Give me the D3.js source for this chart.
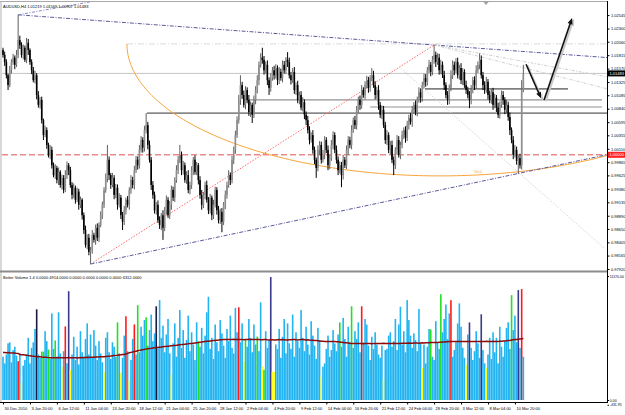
<!DOCTYPE html>
<html><head><meta charset="utf-8">
<script src="https://cdn.jsdelivr.net/npm/d3@7"></script>
<style>body{margin:0;background:#fff}svg{display:block;font-family:"Liberation Sans",Arial,sans-serif}</style>
</head><body><svg id="c" width="625" height="415"></svg>
<script>
const symbolTitle = "AUDUSD,H4  1.01219 1.01569 1.00907 1.01483";
const volumeTitle = "Better Volume 1.4 0.0000 4914.0000 0.0000 0.0000 0.0000 0.0000 6312.0000";
const firstOpen = 1.0191;
const closes = [
1.0182,1.0169,1.0145,1.0127,1.0154,1.0169,1.0177,1.0164,1.0182,1.0209,
1.0200,1.0182,1.0195,1.0173,1.0204,1.0191,1.0169,1.0154,1.0136,1.0145,
1.0109,1.0091,1.0100,1.0063,1.0036,1.0045,1.0018,1.0000,1.0009,0.9981,
0.9963,0.9976,0.9954,0.9969,0.9945,0.9958,0.9936,0.9963,0.9981,0.9972,
0.9945,0.9927,0.9940,0.9918,0.9933,0.9909,0.9918,0.9890,0.9863,0.9836,
0.9849,0.9823,0.9827,0.9854,0.9845,0.9867,0.9849,0.9872,0.9890,0.9909,
0.9936,0.9958,0.9991,0.9963,0.9945,0.9958,0.9927,0.9940,0.9909,0.9922,
0.9890,0.9878,0.9899,0.9918,0.9909,0.9936,0.9954,0.9945,0.9972,0.9991,
0.9981,1.0009,1.0027,1.0013,1.0045,1.0054,1.0018,0.9991,0.9945,0.9927,
0.9899,0.9909,0.9881,0.9872,0.9890,0.9867,0.9899,0.9918,0.9890,0.9909,
0.9936,0.9922,0.9954,0.9972,0.9991,1.0000,0.9972,0.9981,0.9954,0.9963,
0.9936,0.9945,0.9972,0.9991,0.9969,0.9981,0.9954,0.9927,0.9909,0.9927,
0.9945,0.9918,0.9899,0.9922,0.9890,0.9909,0.9936,0.9899,0.9881,0.9896,
0.9878,0.9909,0.9927,0.9945,0.9963,0.9954,0.9991,1.0009,1.0036,1.0063,
1.0100,1.0127,1.0109,1.0091,1.0118,1.0100,1.0078,1.0091,1.0073,1.0100,
1.0118,1.0136,1.0164,1.0177,1.0173,1.0154,1.0164,1.0136,1.0122,1.0140,
1.0154,1.0145,1.0158,1.0136,1.0151,1.0140,1.0164,1.0154,1.0173,1.0169,
1.0145,1.0136,1.0151,1.0118,1.0127,1.0100,1.0109,1.0086,1.0096,1.0073,
1.0063,1.0045,1.0027,1.0036,1.0009,0.9991,0.9976,1.0009,1.0018,0.9991,
1.0000,1.0027,1.0009,0.9981,0.9994,1.0018,1.0036,1.0009,0.9991,0.9972,
0.9981,0.9963,0.9991,0.9981,1.0009,1.0027,1.0018,1.0045,1.0063,1.0054,
1.0082,1.0100,1.0091,1.0118,1.0109,1.0127,1.0136,1.0122,1.0140,1.0145,
1.0127,1.0109,1.0118,1.0091,1.0073,1.0082,1.0054,1.0027,1.0036,1.0009,
1.0018,0.9991,0.9981,1.0009,1.0027,1.0000,1.0018,1.0036,1.0045,1.0031,
1.0054,1.0067,1.0060,1.0082,1.0091,1.0078,1.0100,1.0114,1.0104,1.0127,
1.0140,1.0133,1.0154,1.0164,1.0151,1.0173,1.0182,1.0169,1.0177,1.0154,
1.0164,1.0145,1.0127,1.0109,1.0100,1.0122,1.0145,1.0164,1.0154,1.0169,
1.0145,1.0158,1.0136,1.0151,1.0127,1.0118,1.0109,1.0100,1.0118,1.0136,
1.0127,1.0154,1.0164,1.0173,1.0145,1.0127,1.0118,1.0133,1.0109,1.0100,
1.0114,1.0091,1.0104,1.0086,1.0073,1.0091,1.0109,1.0100,1.0082,1.0091,
1.0069,1.0045,1.0027,1.0000,1.0009,0.9989,0.9994,0.9981,1.0118,1.0148];
// wick lengths in pips above max(open,close) and below min(open,close)
const upperWickPips = [
4,6,5,3,8,5,7,4,9,46, 8,5,6,4,9,7,3,5,6,8, 4,7,5,6,3,8,5,4,9,6, 5,7,4,8,3,6,5,9,7,4,
6,5,8,4,7,5,6,3,5,8, 6,7,5,9,4,6,8,5,7,6, 5,8,27,6,4,9,5,7,6,8, 5,6,8,4,7,5,9,6,8,7,
6,9,7,5,8,22,6,8,5,7, 6,5,8,7,4,9,6,8,5,7, 8,6,5,9,7,18,6,8,5,7, 9,6,7,5,8,6,4,7,9,5,
6,8,5,7,4,9,6,5,8,6, 7,5,8,6,9,5,7,6,8,7, 9,18,6,8,7,5,9,6,4,8, 7,9,6,8,18,7,6,8,5,9,
6,8,7,5,9,6,8,7,5,14, 8,6,7,9,5,8,6,7,9,5, 6,8,7,5,9,6,4,8,7,6, 9,7,5,8,6,9,7,5,8,6,
7,6,9,5,8,7,6,9,5,8, 7,6,8,9,5,7,8,6,5,13, 8,7,6,9,5,8,7,6,9,5, 7,8,6,5,9,7,6,8,5,7,
8,6,9,7,5,8,6,9,7,6, 8,7,6,9,5,7,18,6,8,7, 9,6,8,5,7,6,9,8,6,7, 8,6,9,7,5,8,6,7,9,6,
7,9,6,12,8,6,7,9,5,8, 6,8,7,5,9,6,8,7,5,9, 6,8,5,7,9,6,5,8,18,16];
const lowerWickPips = [
5,7,6,9,4,6,5,8,4,6, 7,5,8,4,6,9,5,7,4,6, 8,5,7,6,9,4,7,5,8,6, 4,7,6,9,5,8,6,4,7,9,
5,8,6,7,4,9,6,8,7,5, 8,6,22,7,5,9,6,8,4,7, 6,5,8,9,7,4,8,6,9,5, 7,15,6,8,5,9,7,6,8,5,
8,6,5,9,7,6,8,5,9,7, 6,8,5,7,9,22,6,8,5,7, 9,6,8,5,7,6,9,8,5,7, 6,8,7,9,5,6,8,7,9,6,
8,5,7,6,9,7,5,8,6,7, 19,6,8,7,5,9,6,8,7,5, 6,9,7,5,8,6,7,9,15,6, 8,6,9,5,7,8,6,9,13,7,
5,8,6,9,7,5,8,6,7,9, 6,8,5,7,9,6,8,5,7,8, 9,6,8,5,7,8,18,6,9,7, 5,8,6,9,7,5,8,6,7,9,
6,22,8,5,7,9,6,8,5,7, 8,6,9,7,5,8,6,9,7,6, 5,8,7,9,6,8,5,7,9,6, 8,6,18,7,9,5,8,6,7,9,
6,8,5,9,7,6,8,5,9,7, 6,9,7,5,8,6,7,9,5,8, 7,5,9,6,9,8,6,7,9,5, 6,8,7,9,5,7,6,15,8,6,
9,7,5,8,6,9,7,5,8,6, 7,9,6,8,6,7,5,9,8,6, 7,9,6,8,5,7,24,6,8,4];
const volumes = [
3900,3300,4100,5100,5200,3400,4500,4800,4000,3500, 4200,1540,3100,3600,4100,5600,3300,4700,5200,6400,
8170,4100,3800,4360,4360,6200,5300,4540,3700,7800, 4600,5360,3900,7900,4200,3000,4400,6630,3300,9800,
2720,4100,5700,3600,4800,3200,6200,4300,3900,5500, 6900,4100,5900,3800,6300,4900,3600,5300,4200,3400,
2540,5600,6100,4300,3700,5200,4800,3900,6990,4200, 2450,3800,5800,7540,4400,1820,3600,5500,6810,4100,
8540,4300,6600,5800,7200,7450,4900,6300,7700,5300, 6000,8440,4800,9000,5600,6700,4300,5900,7300,4200,
2270,5100,6900,3900,5600,8100,4700,6300,3800,5400, 7600,4400,6100,5000,3600,7000,5270,4800,6500,4200,
5800,7900,9300,4600,5600,3700,6800,5200,4400,7200, 6000,4900,3800,6400,5300,7600,4700,4200,8300,6100,
8350,5200,6900,3450,5450,4800,7300,5600,4300,6800, 5000,5720,4400,8800,3000,2720,6200,4700,5400,11080,
2540,2540,5000,4600,6400,3800,5700,7300,4200,6900, 5100,4600,7700,3900,6100,5300,4700,8100,5600,4400,
6600,5000,4100,7100,5800,4900,3700,6500,5400,2090, 3000,3300,4600,5800,3900,4500,6300,5100,4400,5900,
6990,4800,7400,5500,3900,6600,5200,8440,4700,6200, 5500,7000,4300,8440,5200,7300,6800,4900,3600,5700,
4600,6100,5000,4100,3800,4900,1820,4500,4600,5800, 6100,4800,5300,7300,4500,6800,8400,5000,6200,4300,
9000,7200,5800,4700,6000,5400,4400,8200,5100,2900, 5000,3300,4800,6400,6360,3900,3600,7100,5200,4600,
9530,6100,7300,8600,5500,7800,8990,3900,4500,5200, 6900,8700,6600,4700,3800,3180,5900,6990,4700,3600,
4400,6200,5100,3800,7720,4500,3300,2900,4100,5600, 3700,6100,4300,5600,3300,6600,4800,3900,5300,6500,
7000,4600,9440,6300,7600,5200,9900,4700,9990,3900];
const volumeAverage = [
4270,4270,4260,4270,4250,4240,4240,4230,4200,4190, 4090,4080,4070,4060,4040,4000,3990,3960,3950,3930,
3900,3900,3890,3870,3860,3850,3840,3820,3810,3810, 3810,3800,3810,3820,3810,3800,3810,3800,3810,3820,
3810,3800,3810,3800,3790,3810,3820,3810,3820,3830, 3840,3830,3850,3860,3850,3870,3880,3870,3890,3900,
3900,3920,3930,3950,3960,3980,4000,4020,4030,4050, 4070,4090,4100,4150,4200,4250,4290,4320,4360,4400,
4440,4470,4500,4520,4560,4590,4610,4630,4650,4680, 4700,4720,4740,4760,4770,4790,4810,4830,4850,4870,
4890,4900,4920,4930,4950,4970,4990,5010,5030,5050, 5060,5085,5100,5120,5140,5160,5180,5200,5220,5250,
5270,5290,5300,5320,5340,5360,5370,5390,5400,5420, 5430,5440,5450,5450,5440,5460,5450,5470,5450,5440,
5450,5460,5450,5430,5450,5460,5470,5450,5440,5450, 5460,5450,5440,5420,5430,5450,5440,5420,5410,5430,
5420,5400,5410,5430,5440,5420,5450,5430,5410,5400, 5420,5430,5450,5440,5420,5410,5430,5440,5450,5430,
5410,5420,5400,5390,5380,5360,5350,5340,5320,5300, 5290,5280,5270,5260,5270,5280,5270,5260,5250,5240,
5220,5200,5180,5160,5150,5130,5110,5100,5090,5090, 5080,5090,5085,5080,5070,5080,5090,5085,5080,5070,
5080,5090,5100,5090,5080,5100,5110,5100,5090,5080, 5090,5100,5110,5100,5090,5080,5100,5110,5120,5110,
5120,5130,5120,5110,5130,5140,5130,5120,5140,5150, 5140,5150,5160,5150,5170,5180,5170,5180,5190,5200,
5210,5220,5230,5240,5250,5260,5270,5270,5260,5270, 5280,5270,5260,5270,5280,5270,5260,5270,5280,5270,
5260,5270,5280,5270,5260,5270,5280,5290,5280,5270, 5280,5290,5280,5270,5280,5290,5300,5310,5320,5330,
5350,5370,5400,5420,5440,5460,5480,5500,5520,5540];
const lowVolumeBars = [11,35,40,60,70,75,100,143,154,160,161,189,226,249,275,287];
const churnBars = [23,24,27,31,68,80,85,116,144,151,155,200,207,254,260,302];
const climaxBars = [9,37,73,78,140,213,266,308];
const climaxChurnBars = [39,159,277,284,306];
const highChurnBars = [20,91];
const priceTicks = [0.97920,0.98165,0.98405,0.98650,0.98890,0.99135,0.99380,0.99625,0.99865,1.00110,
  1.00355,1.00595,1.00840,1.01085,1.01325,1.01570,1.01815,1.02060,1.02300,1.02545];
const volumeTicks = [11170, 0, -431.95];
const timeLabels = ["30 Dec 2010","3 Jan 20:00","6 Jan 12:00","11 Jan 04:00","13 Jan 20:00","18 Jan 12:00",
  "21 Jan 04:00","25 Jan 20:00","28 Jan 12:00","2 Feb 04:00","4 Feb 20:00","9 Feb 12:00","14 Feb 04:00",
  "16 Feb 20:00","21 Feb 12:00","24 Feb 04:00","28 Feb 20:00","3 Mar 12:00","8 Mar 04:00","10 Mar 20:00"];
const timeLabelStep = 16;
const lastPrice = 1.01483;
const roundLevel = 1.00000;
// drawn objects, in (bar index, price)
const upperTrend = [[9,1.0255],[256,1.0200]];
const lowerTrend = [[52,0.9801],[306,0.9966]];
const spikeRay = [[9,1.0255],[47,1.0276]];
const redTrend = [[52,0.9801],[256,1.0200]];
const fanLines = [[[256,1.0200],[359,1.0120]],[[256,1.0200],[359,1.0142]]];
const steepLine = [[236,1.0158],[357,0.9830]];
const arcCenter = [259.5, 1.0202];
const arcRadius = [185.9, 0.02404];
const arcLevel = "50.0";
const arcBaseLine = [[73.6,1.0202],[359,1.0202]];
const levelLines = [
  {name:"res1", from:85.5, to:359, price:1.0076},
  {name:"res2", from:142.5, to:355.7, price:1.0100},
  {name:"res3", from:218, to:355.7, price:1.0087},
  {name:"res4", from:250.6, to:335.5, price:1.0120}];
const arrowDown = [[310.6,1.0165],[319.5,1.0103]];
const arrowUp = [[321.3,1.0100],[337.9,1.0249]];

const svg = d3.select("#c");
const N = closes.length;
const opens = closes.map((c,i)=> i===0 ? firstOpen : closes[i-1]);
const highs = closes.map((c,i)=> Math.max(opens[i],c) + upperWickPips[i]/10000);
const lows = closes.map((c,i)=> Math.min(opens[i],c) - lowerWickPips[i]/10000);

const PL=2, PR=607, PT=2, PB=270, VT=273, VB=402;
const x = d3.scaleLinear().domain([0,360]).range([3, 3+360*1.684]);
const y = d3.scaleLinear().domain([0.9792,1.02545]).range([269,15.1]);
const v = d3.scaleLinear().domain([0,11170]).range([400,276]);
const edgeBar = x.invert(PR);

const defs = svg.append("defs");
defs.append("clipPath").attr("id","cm").append("rect").attr("x",PL).attr("y",PT).attr("width",PR-PL).attr("height",PB-PT);
defs.append("clipPath").attr("id","cv").append("rect").attr("x",PL).attr("y",VT).attr("width",PR-PL).attr("height",VB-VT);

const main = svg.append("g").attr("clip-path","url(#cm)");
const line = d3.line().x(d=>x(d[0])).y(d=>y(d[1]));
function ray(p1,p2){const s=(p2[1]-p1[1])/(p2[0]-p1[0]);return [p1,[edgeBar+2, p1[1]+s*(edgeBar+2-p1[0])]];}

// horizontal price lines
main.append("line").attr("x1",PL).attr("x2",PR).attr("y1",y(lastPrice)).attr("y2",y(lastPrice)).attr("stroke","#c4c4c4").attr("stroke-width",1);
main.append("line").attr("x1",PL).attr("x2",PR).attr("y1",y(roundLevel)).attr("y2",y(roundLevel)).attr("stroke","#e05050").attr("stroke-width",1).attr("stroke-dasharray","6,3");
main.append("path").attr("d",line(arcBaseLine)).attr("fill","none").attr("stroke","#dadada").attr("stroke-dasharray","6,2,1,2");
const levelStyle = {res1:["#333",1], res2:["#777",1], res3:["#c8c8c8",2], res4:["#222",1]};
levelLines.forEach(l=>{
  main.append("line").attr("x1",x(l.from)).attr("x2",x(l.to)).attr("y1",y(l.price)).attr("y2",y(l.price))
    .attr("stroke",levelStyle[l.name][0]).attr("stroke-width",levelStyle[l.name][1]);
});

// fibonacci arc
const arcPts = d3.range(0, 181, 1).map(a=>{const t=Math.PI - a*Math.PI/180;
  return [arcCenter[0]+arcRadius[0]*Math.cos(t), arcCenter[1]-arcRadius[1]*Math.sin(t)];});
main.append("path").attr("d",line(arcPts)).attr("fill","none").attr("stroke","#f7a53a").attr("stroke-width",1);
{const t=Math.PI - 97*Math.PI/180; const lb=[arcCenter[0]+arcRadius[0]*Math.cos(t), arcCenter[1]-arcRadius[1]*Math.sin(t)];
 main.append("text").attr("x",x(lb[0])).attr("y",y(lb[1])-1.5).attr("font-size",4).attr("fill","#f7a53a").attr("text-anchor","middle").text(arcLevel);}

// trend lines
main.append("path").attr("d",line(ray(...upperTrend))).attr("fill","none").attr("stroke","#5a5a9e").attr("stroke-dasharray","4,1.5,1,1.5");
main.append("path").attr("d",line(ray(...lowerTrend))).attr("fill","none").attr("stroke","#5a5a9e").attr("stroke-dasharray","4,1.5,1,1.5");
main.append("path").attr("d",line(ray(...spikeRay))).attr("fill","none").attr("stroke","#8888bb").attr("stroke-dasharray","3,1.5,1,1.5");
main.append("path").attr("d",line(redTrend)).attr("fill","none").attr("stroke","#ff6a6a").attr("stroke-dasharray","1.5,1.5");
fanLines.forEach(f=>main.append("path").attr("d",line(f)).attr("fill","none").attr("stroke","#cfcfcf").attr("stroke-dasharray","3,1.5,1,1.5"));
main.append("path").attr("d",line(steepLine)).attr("fill","none").attr("stroke","#d6d6d6").attr("stroke-dasharray","1.5,1.5");

// candles
const cg = main.append("g");
d3.range(N).forEach(i=>{
  const up = closes[i] >= opens[i];
  const cx = x(i);
  cg.append("line").attr("x1",cx).attr("x2",cx).attr("y1",y(highs[i])).attr("y2",y(lows[i]))
    .attr("stroke", up ? "#606060" : "#000").attr("stroke-width",1);
  const yt = y(Math.max(opens[i],closes[i])), yb = y(Math.min(opens[i],closes[i]));
  cg.append("rect").attr("x",cx-0.8).attr("width",1.6).attr("y",yt).attr("height",Math.max(0.8,yb-yt))
    .attr("fill", up ? "#8e8e8e" : "#000");
});

// arrows
function arrow(pts){
  const a=[x(pts[0][0]),y(pts[0][1])], b=[x(pts[1][0]),y(pts[1][1])];
  const ang=Math.atan2(b[1]-a[1],b[0]-a[0]), L=6, W=2.6;
  const head=(o)=>[[b[0]+o,b[1]+o],[b[0]-L*Math.cos(ang)+W*Math.sin(ang)+o,b[1]-L*Math.sin(ang)-W*Math.cos(ang)+o],[b[0]-L*Math.cos(ang)-W*Math.sin(ang)+o,b[1]-L*Math.sin(ang)+W*Math.cos(ang)+o]];
  main.append("line").attr("x1",a[0]+1.5).attr("y1",a[1]+1.5).attr("x2",b[0]+1.5).attr("y2",b[1]+1.5).attr("stroke","#c8c8c8").attr("stroke-width",2);
  main.append("polygon").attr("points",head(1.5).join(" ")).attr("fill","#c8c8c8");
  main.append("line").attr("x1",a[0]).attr("y1",a[1]).attr("x2",b[0]-3*Math.cos(ang)).attr("y2",b[1]-3*Math.sin(ang)).attr("stroke","#111").attr("stroke-width",1.6);
  main.append("polygon").attr("points",head(0).join(" ")).attr("fill","#111");
}
arrow(arrowDown); arrow(arrowUp);

// volume
const vg = svg.append("g").attr("clip-path","url(#cv)");
const colorOf = i => climaxBars.includes(i) ? "#ff1a1a" : churnBars.includes(i) ? "#22e022" :
  lowVolumeBars.includes(i) ? "#ffff22" : climaxChurnBars.includes(i) ? "#3a3a8c" : highChurnBars.includes(i) ? "#1a1a40" : "#22b4f0";
volumes.forEach((val,i)=>{
  vg.append("rect").attr("x",x(i)-0.8).attr("width",1.6).attr("y",v(val)).attr("height",v(0)-v(val)).attr("fill",colorOf(i));
});
vg.append("path").attr("d",d3.line().x((d,i)=>x(i)).y(d=>v(d))(volumeAverage)).attr("fill","none").attr("stroke","#8b0a0a").attr("stroke-width",1.5);

// frame
svg.append("line").attr("x1",0).attr("x2",PR).attr("y1",1.5).attr("y2",1.5).attr("stroke","#a8a8a8");
svg.append("line").attr("x1",1).attr("x2",1).attr("y1",1).attr("y2",VB).attr("stroke","#b0b0b0");
svg.append("rect").attr("x",0).attr("y",270.5).attr("width",PR).attr("height",2).attr("fill","#8c8c8c");
svg.append("line").attr("x1",PR+0.5).attr("x2",PR+0.5).attr("y1",1).attr("y2",VB+1).attr("stroke","#000");
svg.append("line").attr("x1",0).attr("x2",PR).attr("y1",VB+0.5).attr("y2",VB+0.5).attr("stroke","#000");
svg.append("path").attr("d","M483,1.5L489,1.5L486,5Z").attr("fill","#a0a0a0");

// titles
svg.append("text").attr("x",3).attr("y",8).attr("font-size",4).attr("fill","#000").text(symbolTitle);
svg.append("text").attr("x",3).attr("y",279).attr("font-size",4).attr("fill","#000").text(volumeTitle);

// axes
const fam = '"Liberation Sans",Arial,sans-serif';
const ya = svg.append("g").attr("transform",`translate(${PR+0.5},0)`)
  .call(d3.axisRight(y).tickValues(priceTicks).tickFormat(d=>d.toFixed(5)).tickSize(2).tickPadding(1.5));
ya.select(".domain").remove();
ya.attr("font-size",4).attr("font-family",fam);
const va = svg.append("g").attr("transform",`translate(${PR+0.5},0)`)
  .call(d3.axisRight(v).tickValues(volumeTicks).tickFormat(d=>d.toFixed(2)).tickSize(1.5).tickPadding(0.8));
va.select(".domain").remove();
va.attr("font-size",3.5).attr("font-family",fam);

// price boxes
[[lastPrice,"#000"],[roundLevel,"#ff2020"]].forEach(([p,c])=>{
  svg.append("rect").attr("x",PR+1).attr("y",y(p)-3).attr("width",625-PR-1).attr("height",6).attr("fill",c);
  svg.append("text").attr("x",PR+2.5).attr("y",y(p)).attr("dy","0.34em").attr("font-size",4).attr("fill","#fff").text(p.toFixed(5));
});

const labelBars = timeLabels.map((t,i)=>i*timeLabelStep);
const xa = svg.append("g").attr("transform",`translate(0,${VB+0.5})`)
  .call(d3.axisBottom(x).tickValues(labelBars).tickFormat((d,i)=>timeLabels[i]).tickSize(2).tickPadding(3));
xa.select(".domain").remove();
xa.attr("font-size",4).attr("font-family",fam);
xa.selectAll("text").attr("text-anchor","start").attr("dx",1);
</script></body></html>
